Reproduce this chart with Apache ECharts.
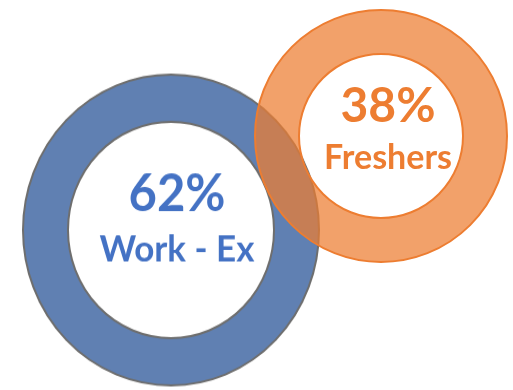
<!DOCTYPE html>
<html>
<head>
<meta charset="utf-8">
<script src="https://cdn.jsdelivr.net/npm/echarts@6/dist/echarts.min.js"></script>
<style>
html,body{margin:0;padding:0;background:#fff;}
#wrap{position:relative;width:513px;height:390px;overflow:hidden;background:#fff;}
#blue,#orange{position:absolute;left:0;top:0;width:513px;height:390px;}
#blue{transform:scaleY(1.05);transform-origin:0 230px;}
</style>
</head>
<body>
<div id="wrap"><div id="blue"></div><div id="orange"></div></div>
<script>
var names = ["Work - Ex", "Freshers"];
var values = [62, 38];

var FONT = 'Lato';

function makeLabel(i, color, bigSize, smallSize, pad) {
  return {
    show: true,
    position: 'center',
    formatter: function () { return '{v|' + values[i] + '%}\n{n|' + names[i] + '}'; },
    padding: pad,
    rich: {
      v: {fontFamily: FONT, fontWeight: 'bold', fontSize: bigSize, color: color, lineHeight: bigSize * 1.2},
      n: {fontFamily: FONT, fontWeight: 'bold', fontSize: smallSize, color: color, lineHeight: smallSize * 1.3}
    }
  };
}

var blue = echarts.init(document.getElementById('blue'), null, {renderer: 'canvas'});
blue.setOption({
  animation: false,
  series: [{
    type: 'pie',
    silent: true,
    center: [171, 230],
    radius: [103, 148],
    label: makeLabel(0, '#4472C4', 49, 35, [0, 0, 22, 12]),
    labelLine: {show: false},
    itemStyle: {color: '#6080B2', borderColor: '#6E6E6E', borderWidth: 2},
    data: [{name: names[0], value: values[0]}]
  }]
});

var orange = echarts.init(document.getElementById('orange'), null, {renderer: 'canvas'});
orange.setOption({
  animation: false,
  series: [{
    type: 'pie',
    silent: true,
    center: [381, 136],
    radius: [82, 126],
    label: makeLabel(1, '#ED7D31', 48, 34, [0, 0, 14, 14]),
    labelLine: {show: false},
    itemStyle: {color: 'rgba(237,125,49,0.72)', borderColor: '#ED7D31', borderWidth: 2},
    data: [{name: names[1], value: values[1]}]
  }]
});
</script>
</body>
</html>
